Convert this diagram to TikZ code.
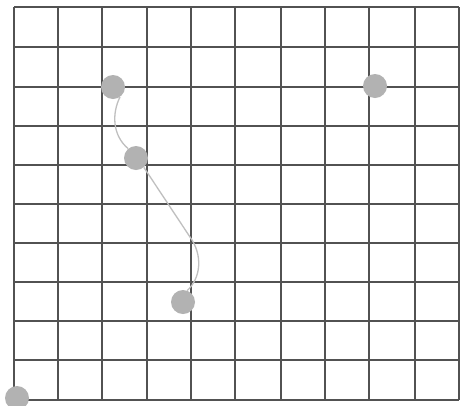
\documentclass[tikz,border=0pt]{standalone}
\begin{document}
\begin{tikzpicture}[x=1pt,y=-1pt,
  gridline/.style={draw=black!68,line width=1.5pt},
  dot/.style={circle,fill=black!30,minimum size=24pt,inner sep=0pt},
  link/.style={draw=black!25,line width=1.3pt}]
\useasboundingbox (0,0) rectangle (460,405);
\fill[white] (0,0) rectangle (460,405);
% vertical lines
\foreach \x in {14,58,102,147,191,235,281,325,369,415,459} {
  \draw[gridline] (\x,7) -- (\x,400);
}
% horizontal lines
\foreach \y in {7,47,87,126,165,204,243,282,321,360,400} {
  \draw[gridline] (14,\y) -- (459,\y);
}
\node[dot] (d1) at (113,87) {};
\node[dot] (d2) at (136,158) {};
\node[dot] (d3) at (183,302) {};
\node[dot] (d4) at (17,398) {};
\node[dot] (d5) at (375,86) {};
\draw[link] (d1.-55) .. controls (112,113) and (112,135) .. (d2.130);
\coordinate (k) at (190,237);
\draw[link] (d2.-50) -- (k) .. controls (203,255) and (201,278) .. (d3.70);
\end{tikzpicture}
\end{document}
